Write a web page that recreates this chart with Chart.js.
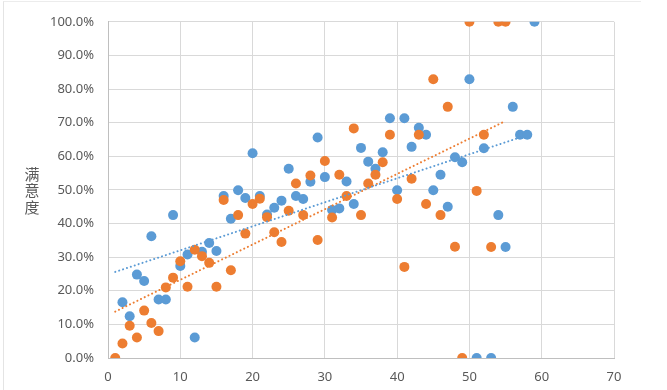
<!DOCTYPE html>
<html>
<head>
<meta charset="utf-8">
<script src="https://cdn.jsdelivr.net/npm/chart.js@4/dist/chart.umd.min.js"></script>
<style>
  html, body { margin: 0; padding: 0; background: #fff; }
  #wrap { position: relative; width: 667px; height: 390px; }
  #frame { position: absolute; left: 3px; top: 1px; width: 637px; height: 400px;
           border-left: 1px solid #e4e4e4; border-top: 1px solid #ececec; pointer-events: none; }
</style>
</head>
<body>
<div id="wrap">
  <canvas id="chart" width="667" height="390"></canvas>
  <div id="frame"></div>
</div>
<script>
// x values and satisfaction (%)
const blueX = [2, 3, 4, 5, 6, 7, 8, 9, 10, 11, 12, 13, 14, 15, 16, 17, 18, 19, 20,
  21, 22, 23, 24, 25, 26, 27, 28, 29, 30, 31, 32, 33, 34, 35, 36, 37, 38, 39, 40,
  41, 42, 43, 44, 45, 46, 47, 48, 49, 50, 51, 52, 53, 54, 55, 56, 57, 58, 59];
const blueY = [16.6, 12.4, 24.8, 22.9, 36.2, 17.4, 17.4, 42.5, 27.4, 30.8, 6.1, 31.6, 34.2, 31.8, 48.2, 41.4, 49.9, 47.6, 60.9,
  48.2, 42.7, 44.7, 46.8, 56.3, 48.2, 47.3, 52.4, 65.6, 53.8, 44.0, 44.5, 52.5, 45.8, 62.5, 58.4, 56.3, 61.2, 71.3, 49.9,
  71.3, 62.8, 68.5, 66.4, 49.9, 54.5, 45.0, 59.7, 58.2, 82.9, 0, 62.4, 0, 42.5, 33.0, 74.7, 66.4, 66.4, 100];

const orangeX = [1, 2, 3, 4, 5, 6, 7, 8, 9, 10, 11, 12, 13, 14, 15, 16, 17, 18, 19, 20,
  21, 22, 23, 24, 25, 26, 27, 28, 29, 30, 31, 32, 33, 34, 35, 36, 37, 38, 39, 40,
  41, 42, 43, 44, 45, 46, 47, 48, 49, 50, 51, 52, 53, 54, 55];
const orangeY = [0, 4.3, 9.6, 6.1, 14.1, 10.4, 8.0, 21.0, 23.9, 28.8, 21.2, 32.2, 30.3, 28.3, 21.2, 47.0, 26.1, 42.5, 37.0, 45.8,
  47.4, 41.9, 37.4, 34.5, 43.8, 51.9, 42.5, 54.3, 35.1, 58.6, 41.8, 54.5, 48.2, 68.3, 42.5, 51.9, 54.5, 58.2, 66.4, 47.3,
  27.1, 53.3, 66.4, 45.8, 82.9, 42.5, 74.7, 33.1, 0, 100, 49.7, 66.4, 33.0, 100, 100];

// linear trendlines, end values
const blueTrendX = [1, 57];
const blueTrendY = [25.6, 65.6];
const orangeTrendX = [1, 55];
const orangeTrendY = [13.8, 70.5];

const yTitle = ['满', '意', '度'];

function toPoints(xs, ys) {
  return xs.map((x, i) => ({ x: x, y: ys[i] }));
}

const BLUE = '#5B9BD5';
const ORANGE = '#ED7D31';

// stacked, upright y axis title
const yTitlePlugin = {
  id: 'yTitle',
  afterDraw(chart) {
    const ctx = chart.ctx;
    ctx.save();
    ctx.font = '15px "Noto Sans CJK SC"';
    ctx.fillStyle = '#595959';
    ctx.textAlign = 'center';
    ctx.textBaseline = 'middle';
    yTitle.forEach((ch, i) => ctx.fillText(ch, 32, 174 + i * 16.5));
    ctx.restore();
  }
};

new Chart(document.getElementById('chart').getContext('2d'), {
  type: 'scatter',
  data: {
    datasets: [
      {
        label: 'trend blue',
        type: 'line',
        data: toPoints(blueTrendX, blueTrendY),
        borderColor: BLUE,
        borderWidth: 2,
        borderDash: [0.1, 4],
        borderCapStyle: 'round',
        pointRadius: 0,
        fill: false,
        order: 0
      },
      {
        label: 'trend orange',
        type: 'line',
        data: toPoints(orangeTrendX, orangeTrendY),
        borderColor: ORANGE,
        borderWidth: 2,
        borderDash: [0.1, 4],
        borderCapStyle: 'round',
        pointRadius: 0,
        fill: false,
        order: 0
      },
      {
        label: 'orange',
        data: toPoints(orangeX, orangeY),
        backgroundColor: ORANGE,
        borderColor: ORANGE,
        pointRadius: 5,
        borderWidth: 0,
        order: 1
      },
      {
        label: 'blue',
        data: toPoints(blueX, blueY),
        backgroundColor: BLUE,
        borderColor: BLUE,
        pointRadius: 5,
        borderWidth: 0,
        order: 2
      }
    ]
  },
  options: {
    responsive: false,
    animation: false,
    layout: { padding: { top: 18, right: 53, bottom: 0, left: 0 } },
    plugins: {
      legend: { display: false },
      tooltip: { enabled: false }
    },
    scales: {
      x: {
        type: 'linear',
        min: 0,
        max: 70,
        ticks: {
          stepSize: 10,
          padding: 11,
          color: '#595959',
          font: { family: '"Noto Sans", sans-serif', size: 13 }
        },
        grid: { color: '#D9D9D9', drawTicks: false },
        border: { color: '#BFBFBF' },
        afterFit(scale) { scale.height = 32; }
      },
      y: {
        min: 0,
        max: 100,
        ticks: {
          stepSize: 10,
          padding: 14,
          color: '#595959',
          font: { family: '"Noto Sans", sans-serif', size: 13 },
          callback: v => v.toFixed(1) + '%'
        },
        grid: { color: '#D9D9D9', drawTicks: false },
        border: { color: '#BFBFBF' },
        afterFit(scale) { scale.width = 108; }
      }
    }
  },
  plugins: [yTitlePlugin]
});
</script>
</body>
</html>
